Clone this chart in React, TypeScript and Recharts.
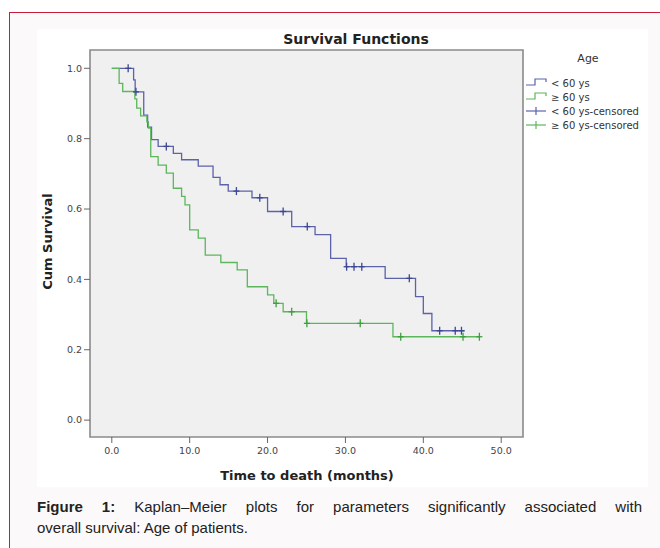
import React from "react";
import {
  ComposedChart,
  Line,
  Scatter,
  XAxis,
  YAxis,
  ReferenceArea,
} from "recharts";

// time points (months) where each curve steps, and the survival after the step
const youngTimes = [0, 2.8, 3.0, 4.1, 4.6, 5.1, 5.95, 7.9, 8.96, 11.1, 13.0, 13.9, 14.95, 18.0, 20.0, 23.1, 26.1, 28.1, 30.1, 35.1, 39.0, 40.0, 41.1, 45.3];
const youngSurv = [1.0, 0.967, 0.933, 0.867, 0.833, 0.797, 0.778, 0.758, 0.74, 0.722, 0.69, 0.669, 0.651, 0.632, 0.593, 0.55, 0.527, 0.46, 0.436, 0.403, 0.351, 0.303, 0.254, 0.254];
const youngCensored = [2.1, 3.1, 7.0, 16.0, 19.0, 22.0, 25.1, 30.15, 31.1, 32.1, 38.2, 42.1, 44.1, 44.9];

const oldTimes = [0, 0.94, 1.4, 2.96, 3.2, 3.7, 4.5, 4.7, 5.0, 5.95, 7.0, 7.9, 8.96, 9.4, 10.0, 11.1, 12.0, 14.0, 16.1, 17.4, 20.0, 20.8, 22.0, 25.0, 36.1, 47.2];
const oldSurv = [1.0, 0.957, 0.934, 0.913, 0.887, 0.865, 0.848, 0.83, 0.749, 0.725, 0.702, 0.659, 0.636, 0.612, 0.541, 0.517, 0.469, 0.448, 0.427, 0.379, 0.356, 0.332, 0.308, 0.275, 0.237, 0.237];
const oldCensored = [21.1, 23.1, 25.05, 31.9, 37.1, 45.1, 47.2];

const xTicks = [0, 10, 20, 30, 40, 50];
const yTicks = [0, 0.2, 0.4, 0.6, 0.8, 1.0];

const legendLabels = ["< 60 ys", "\u2265 60 ys", "< 60 ys-censored", "\u2265 60 ys-censored"];

const BLUE = "#5b62aa";
const BLUE_DARK = "#3c4792";
const GREEN = "#5cb65c";
const GREEN_DARK = "#3f9e40";

const steps = (times: number[], surv: number[]) =>
  times.map((t, i) => ({ t, s: surv[i] }));

// survival level at a censoring time
const levelAt = (times: number[], surv: number[], t: number) => {
  let v = surv[0];
  times.forEach((tt, i) => {
    if (tt <= t) v = surv[i];
  });
  return v;
};

const censors = (c: number[], times: number[], surv: number[]) =>
  c.map((t) => ({ t, s: levelAt(times, surv, t) }));

const youngData = steps(youngTimes, youngSurv);
const oldData = steps(oldTimes, oldSurv);
const youngCens = censors(youngCensored, youngTimes, youngSurv);
const oldCens = censors(oldCensored, oldTimes, oldSurv);

const plus = (color: string) => (props: any) => {
  const { cx, cy } = props;
  return (
    <g>
      <line x1={cx} y1={cy - 4} x2={cx} y2={cy + 4} stroke={color} strokeWidth={1.3} />
      <line x1={cx - 3} y1={cy} x2={cx + 3} y2={cy} stroke={color} strokeWidth={1.3} />
    </g>
  );
};

const spss = "'DejaVu Sans', Verdana, sans-serif";
const captionFont = "'Liberation Sans', Arial, sans-serif";

function LegendBox() {
  const colors = [BLUE, GREEN, BLUE, GREEN];
  return (
    <div style={{ position: "absolute", left: 524, top: 52, width: 130, fontFamily: spss, color: "#333" }}>
      <div style={{ textAlign: "center", fontSize: 11, marginLeft: 14, width: 100 }}>Age</div>
      <svg width={130} height={64} style={{ position: "absolute", left: 0, top: 18 }}>
        {legendLabels.map((lab, i) => {
          const y = 13 + i * 14;
          return (
            <g key={lab}>
              {i < 2 ? (
                <path d={`M2,${y + 2} H11 V${y - 4} H22 V${y - 1}`} fill="none" stroke={colors[i]} strokeWidth={1.2} />
              ) : (
                <g>
                  <line x1={2} y1={y} x2={22} y2={y} stroke={colors[i]} strokeWidth={1.2} />
                  <line x1={12} y1={y - 4} x2={12} y2={y + 4} stroke={colors[i]} strokeWidth={1.2} />
                </g>
              )}
              <text x={27} y={y + 3.5} fontSize={10} fill="#333" fontFamily={spss}>
                {lab}
              </text>
            </g>
          );
        })}
      </svg>
    </div>
  );
}

export default function App() {
  return (
    <div style={{ position: "absolute", left: 0, top: 0, width: 660, height: 548, background: "#fff", overflow: "hidden" }}>
      <div
        style={{
          position: "absolute",
          left: 9,
          top: 12,
          width: 680,
          height: 560,
          border: "1.5px solid #c41e3a",
          background: "#fcf9fa",
        }}
      />
      <div style={{ position: "absolute", left: 37, top: 29, width: 611, height: 458, background: "#fff" }} />

      <div style={{ position: "absolute", left: 0, top: 0 }}>
        <ComposedChart width={660} height={548} margin={{ top: 50, right: 137, bottom: 81, left: 30 }}>
          <ReferenceArea
            x1={-2.8}
            x2={52.8}
            y1={-0.048}
            y2={1.052}
            fill="#f0f0f0"
            fillOpacity={1}
            stroke="#8a8a8a"
            strokeWidth={1.6}
          />
          <XAxis
            type="number"
            dataKey="t"
            domain={[-2.8, 52.8]}
            ticks={xTicks}
            allowDataOverflow
            height={30}
            tickSize={6}
            tickMargin={4}
            axisLine={false}
            tickLine={{ stroke: "#666" }}
            tick={{ fontSize: 9.5, fill: "#444", fontFamily: spss }}
            tickFormatter={(v) => v.toFixed(1)}
          />
          <YAxis
            type="number"
            dataKey="s"
            domain={[-0.048, 1.052]}
            ticks={yTicks}
            allowDataOverflow
            width={60}
            tickSize={6}
            tickMargin={2}
            axisLine={false}
            tickLine={{ stroke: "#666" }}
            tick={{ fontSize: 9.5, fill: "#444", fontFamily: spss }}
            tickFormatter={(v) => v.toFixed(1)}
          />
          <Line data={youngData} dataKey="s" type="stepAfter" stroke={BLUE} strokeWidth={1.3} dot={false} isAnimationActive={false} />
          <Line data={oldData} dataKey="s" type="stepAfter" stroke={GREEN} strokeWidth={1.3} dot={false} isAnimationActive={false} />
          <Scatter data={youngCens} dataKey="s" shape={plus(BLUE_DARK)} isAnimationActive={false} />
          <Scatter data={oldCens} dataKey="s" shape={plus(GREEN_DARK)} isAnimationActive={false} />
        </ComposedChart>
      </div>

      <div
        style={{
          position: "absolute",
          left: 256,
          top: 31,
          width: 200,
          textAlign: "center",
          fontFamily: spss,
          fontWeight: "bold",
          fontSize: 14,
          color: "#222",
        }}
      >
        Survival Functions
      </div>
      <div
        style={{
          position: "absolute",
          left: 207,
          top: 468,
          width: 200,
          textAlign: "center",
          fontFamily: spss,
          fontWeight: "bold",
          fontSize: 13,
          color: "#222",
        }}
      >
        Time to death (months)
      </div>
      <div
        style={{
          position: "absolute",
          left: 47 - 60,
          top: 243 - 9,
          width: 120,
          textAlign: "center",
          fontFamily: spss,
          fontWeight: "bold",
          fontSize: 13,
          color: "#222",
          transform: "rotate(-90deg)",
        }}
      >
        Cum Survival
      </div>

      <LegendBox />

      <div
        style={{
          position: "absolute",
          left: 37,
          top: 496,
          width: 605,
          fontFamily: captionFont,
          fontSize: 15,
          lineHeight: "21px",
          color: "#222",
        }}
      >
        <div style={{ textAlign: "justify", textAlignLast: "justify" }}>
          <span style={{ fontWeight: "bold" }}>Figure 1:</span> Kaplan–Meier plots for parameters significantly associated with
        </div>
        <div>overall survival: Age of patients.</div>
      </div>
    </div>
  );
}
